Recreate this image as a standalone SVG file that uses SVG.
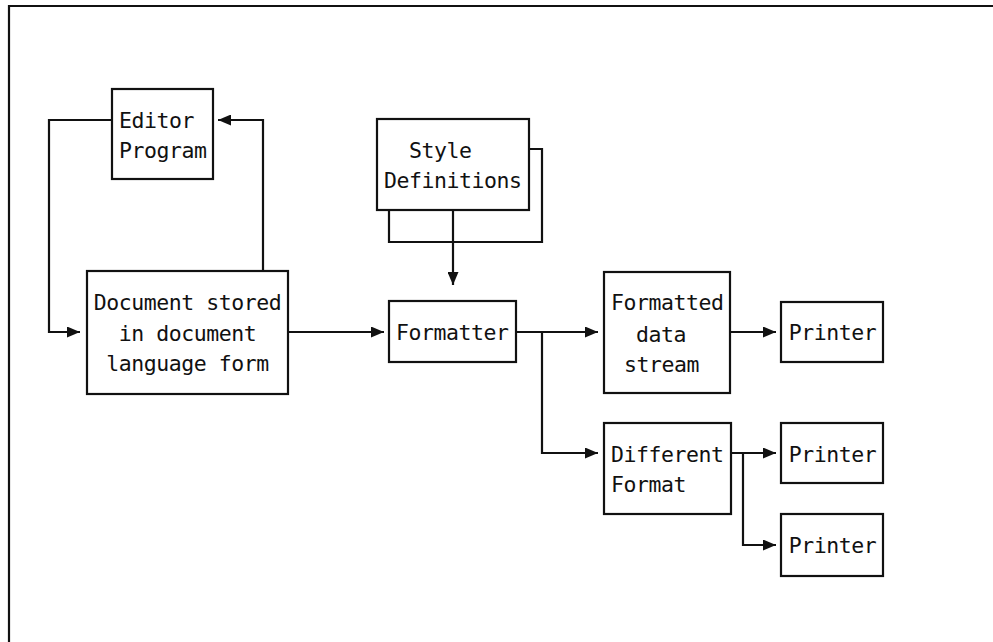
<svg xmlns="http://www.w3.org/2000/svg" width="993" height="642" viewBox="0 0 993 642">
  <defs>
    <marker id="arrow" viewBox="0 0 13 11" refX="13" refY="5.5" markerWidth="13" markerHeight="11" markerUnits="userSpaceOnUse" orient="auto">
      <path d="M0,0 L13,5.5 L0,11 Z" fill="#111"/>
    </marker>
    <style>
      .box { fill: #fff; stroke: #111; stroke-width: 2.2; }
      .line { fill: none; stroke: #111; stroke-width: 2.2; }
      .arr { marker-end: url(#arrow); }
      text { font-family: "DejaVu Sans Mono", "Liberation Mono", monospace; font-size: 21.5px; letter-spacing: -0.45px; fill: #111; }
      .c { text-anchor: middle; }
    </style>
  </defs>
  <rect width="993" height="642" fill="#fff"/>

  <!-- page frame (top and left edges only) -->
  <path class="line" d="M9,642 V6 H993"/>

  <g id="connectors">
    <path class="line arr" d="M112,120 H49 V332 H80"/>
    <path class="line arr" d="M263,271 V120 H218"/>
    <path class="line arr" d="M288,332 H384"/>
    <path class="line" d="M529,149 H542 V242 H389 V210"/>
    <path class="line arr" d="M453,210 V285"/>
    <path class="line arr" d="M516,332 H598"/>
    <path class="line arr" d="M542,332 V453 H598"/>
    <path class="line arr" d="M730,332 H776"/>
    <path class="line arr" d="M731,453 H776"/>
    <path class="line arr" d="M743,453 V545 H776"/>
  </g>

  <g id="editor">
    <rect class="box" x="112" y="89" width="101" height="90"/>
    <text x="119" y="128">Editor</text>
    <text x="119" y="158">Program</text>
  </g>

  <g id="document">
    <rect class="box" x="87" y="271" width="201" height="123"/>
    <text class="c" x="187.5" y="310">Document stored</text>
    <text class="c" x="187.5" y="341">in document</text>
    <text class="c" x="187.5" y="371">language form</text>
  </g>

  <g id="style-definitions">
    <rect class="box" x="377" y="119" width="152" height="91"/>
    <text x="409" y="158">Style</text>
    <text x="384" y="188">Definitions</text>
  </g>

  <g id="formatter">
    <rect class="box" x="389" y="301" width="127" height="61"/>
    <text x="396" y="340">Formatter</text>
  </g>

  <g id="formatted-data-stream">
    <rect class="box" x="604" y="272" width="126" height="121"/>
    <text x="611" y="310">Formatted</text>
    <text x="636" y="342">data</text>
    <text x="624" y="372">stream</text>
  </g>

  <g id="different-format">
    <rect class="box" x="604" y="423" width="127" height="91"/>
    <text x="611" y="462">Different</text>
    <text x="611" y="492">Format</text>
  </g>

  <g id="printer-1">
    <rect class="box" x="781" y="302" width="102" height="60"/>
    <text class="c" x="832.5" y="340">Printer</text>
  </g>

  <g id="printer-2">
    <rect class="box" x="781" y="423" width="102" height="60"/>
    <text class="c" x="832.5" y="462">Printer</text>
  </g>

  <g id="printer-3">
    <rect class="box" x="781" y="514" width="102" height="62"/>
    <text class="c" x="832.5" y="553">Printer</text>
  </g>
</svg>
